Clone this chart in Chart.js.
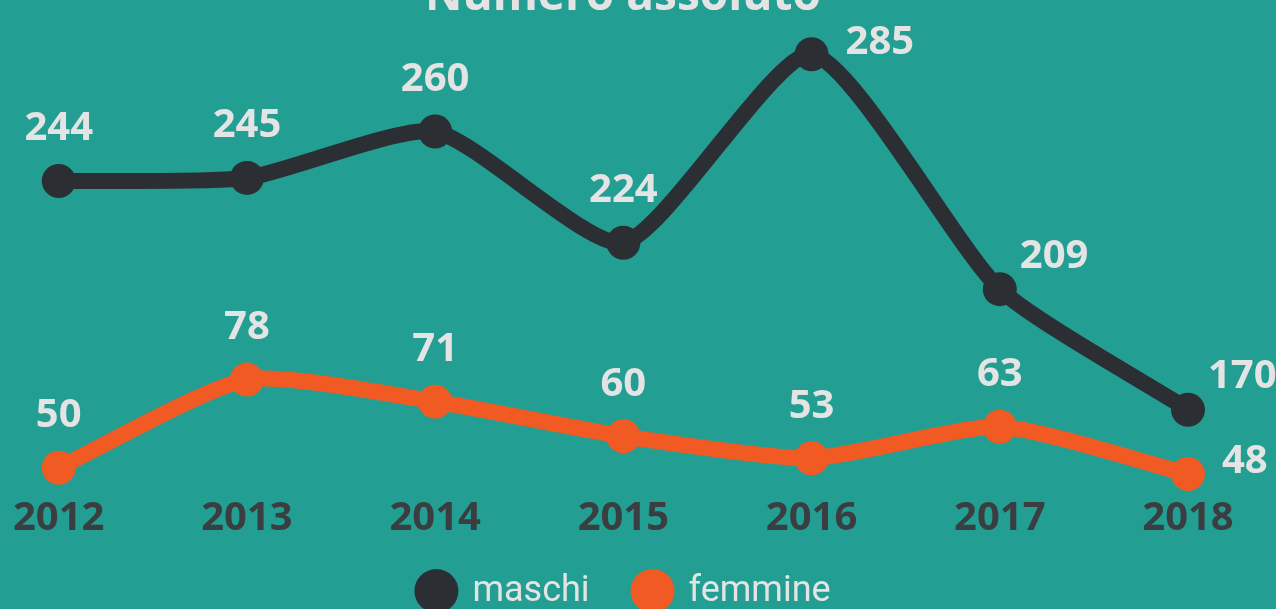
<!DOCTYPE html>
<html>
<head>
<meta charset="utf-8">
<script src="https://cdn.jsdelivr.net/npm/chart.js@4.4.1/dist/chart.umd.min.js"></script>
<style>
  html, body { margin: 0; padding: 0; background: #239e93; overflow: hidden; }
  #wrap { position: relative; width: 1276px; height: 640px; margin-top: -31px; }
</style>
</head>
<body>
<div id="wrap"><canvas id="chart"></canvas></div>
<script>
// Data
const years = ['2012', '2013', '2014', '2015', '2016', '2017', '2018'];
const maschi = [244, 245, 260, 224, 285, 209, 170];
const femmine = [50, 78, 71, 60, 53, 63, 48];

// where each value label sits next to its point
const maschiLabelSide = ['top', 'top', 'top', 'top', 'right', 'upright', 'upright'];
const femmineLabelSide = ['top', 'top', 'top', 'top', 'top', 'top', 'right'];

const dark = '#2b2f33';
const orange = '#f15a22';
const light = '#e4e4e4';

// Value labels
const valueLabels = {
    id: 'valueLabels',
    afterDatasetsDraw(chart) {
        const ctx = chart.ctx;
        ctx.save();
        ctx.font = 'bold 40px "Open Sans"';
        ctx.fillStyle = light;
        ctx.textBaseline = 'middle';
        chart.data.datasets.forEach((ds, i) => {
            const meta = chart.getDatasetMeta(i);
            meta.data.forEach((pt, j) => {
                const side = ds.labelSide[j];
                if (side === 'right') {
                    ctx.textAlign = 'left';
                    ctx.fillText(ds.data[j], pt.x + 34, pt.y - 12);
                } else if (side === 'upright') {
                    ctx.textAlign = 'left';
                    ctx.fillText(ds.data[j], pt.x + 20, pt.y - 33);
                } else {
                    ctx.textAlign = 'center';
                    ctx.fillText(ds.data[j], pt.x, pt.y - 52);
                }
            });
        });
        ctx.restore();
    }
};

// Legend at the bottom, drawn by hand
const bottomLegend = {
    id: 'bottomLegend',
    afterDraw(chart) {
        const ctx = chart.ctx;
        const r = 22, gap = 14, itemGap = 41;
        const y = chart.height - 18;
        ctx.save();
        ctx.font = '36px Roboto';
        ctx.textBaseline = 'middle';
        ctx.textAlign = 'left';
        const items = chart.data.datasets.map(ds => ({
            text: ds.label,
            color: ds.borderColor,
            w: 2 * r + gap + ctx.measureText(ds.label).width
        }));
        const total = items.reduce((s, it) => s + it.w, 0) + itemGap * (items.length - 1);
        let x = (chart.width - total - itemGap) / 2 + 5;
        items.forEach(it => {
            ctx.fillStyle = it.color;
            ctx.beginPath();
            ctx.arc(x + r, y, r, 0, Math.PI * 2);
            ctx.fill();
            ctx.fillStyle = light;
            ctx.fillText(it.text, x + 2 * r + gap, y + 1);
            x += it.w + itemGap;
        });
        ctx.restore();
    }
};

const ctx = document.getElementById('chart').getContext('2d');
new Chart(ctx, {
    type: 'line',
    data: {
        labels: years,
        datasets: [{
            label: 'maschi',
            data: maschi,
            labelSide: maschiLabelSide,
            yAxisID: 'y',
            borderColor: dark,
            backgroundColor: dark,
            pointBackgroundColor: dark,
            borderWidth: 16,
            pointRadius: 17,
            pointBorderWidth: 0,
            tension: 0.2,
            clip: false
        }, {
            label: 'femmine',
            data: femmine,
            labelSide: femmineLabelSide,
            yAxisID: 'y1',
            borderColor: orange,
            backgroundColor: orange,
            pointBackgroundColor: orange,
            borderWidth: 16,
            pointRadius: 17,
            pointBorderWidth: 0,
            tension: 0.2,
            clip: false
        }]
    },
    options: {
        responsive: true,
        maintainAspectRatio: false,
        animation: false,
        layout: {
            padding: { left: 58, right: 88, bottom: 53 }
        },
        scales: {
            x: {
                offset: false,
                grid: { display: false, drawTicks: false },
                border: { display: false },
                ticks: {
                    color: '#3a3e41',
                    padding: 13,
                    font: { family: 'Open Sans', weight: 'bold', size: 40 }
                }
            },
            y: { display: false, min: 146.6, max: 289.55 },
            y1: { display: false, min: 45.45, max: 185.9 }
        },
        plugins: {
            title: {
                display: true,
                text: 'Numero assoluto',
                color: light,
                padding: { top: 0, bottom: 16 },
                font: { family: 'Open Sans', weight: 'bold', size: 46 }
            },
            legend: { display: false },
            tooltip: { enabled: false }
        }
    },
    plugins: [valueLabels, bottomLegend]
});
</script>
</body>
</html>
